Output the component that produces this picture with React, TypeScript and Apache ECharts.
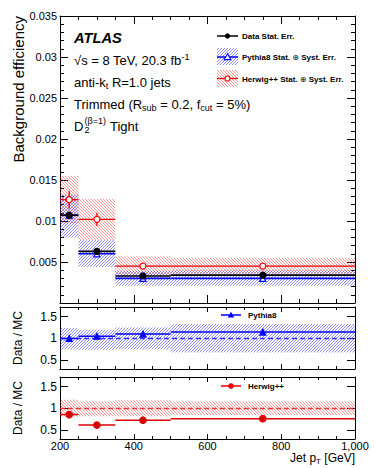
import React, { useEffect, useRef } from 'react';
import * as echarts from 'echarts';

// ---------- data ----------
const binEdges = [200, 250, 350, 500, 1000];
const binCenters = [225, 300, 425, 750];

const dataEff = [0.0107, 0.0063, 0.0033, 0.0034];
const dataErr = [0.0003, 0.0002, 0.0001, 0.0001];

const pythiaEff = [0.0107, 0.006, 0.003, 0.003];
const pythiaLo = [0.008, 0.0044, 0.0021, 0.0021];
const pythiaHi = [0.0132, 0.0077, 0.0039, 0.004];

const herwigEff = [0.0126, 0.0102, 0.0045, 0.0045];
const herwigErr = [0.0011, 0.0008, 0.0002, 0.0001];
const herwigLo = [0.0097, 0.0077, 0.0034, 0.0036];
const herwigHi = [0.0155, 0.0127, 0.0057, 0.0055];

const ratioPythia = [1.0, 1.05, 1.1, 1.145];
const ratioPythiaLo = [0.75, 0.74, 0.75, 0.68];
const ratioPythiaHi = [1.24, 1.2, 1.25, 1.33];

const ratioHerwig = [0.86, 0.62, 0.73, 0.765];
const ratioHerwigLo = [0.81, 0.82, 0.82, 0.85];
const ratioHerwigHi = [1.2, 1.16, 1.19, 1.16];

const ratioTicks = [0.5, 1, 1.5];

const FONT = '"Liberation Sans", Arial, Helvetica, sans-serif';
const BLUE = '#0000ff';
const RED = '#ee0000';
const BLUE_H = 'rgba(40,40,255,0.6)';
const RED_H = 'rgba(255,40,40,0.55)';

// ---------- helpers ----------
function hatch(x0: number, y0: number, x1: number, y1: number, s: number, dir: number, stroke: string, lw: number) {
  const out: any[] = [];
  const xa = Math.min(x0, x1), xb = Math.max(x0, x1), ya = Math.min(y0, y1), yb = Math.max(y0, y1);
  if (dir === 1) {
    const cmin = xa + ya, cmax = xb + yb;
    for (let c = Math.ceil(cmin / s) * s; c <= cmax; c += s) {
      const xs = Math.max(xa, c - yb), xe = Math.min(xb, c - ya);
      if (xe - xs < 0.3) continue;
      out.push({ type: 'line', shape: { x1: xs, y1: c - xs, x2: xe, y2: c - xe }, style: { stroke, lineWidth: lw } });
    }
  } else {
    const cmin = xa - yb, cmax = xb - ya;
    for (let c = Math.ceil(cmin / s) * s; c <= cmax; c += s) {
      const xs = Math.max(xa, ya + c), xe = Math.min(xb, yb + c);
      if (xe - xs < 0.3) continue;
      out.push({ type: 'line', shape: { x1: xs, y1: xs - c, x2: xe, y2: xe - c }, style: { stroke, lineWidth: lw } });
    }
  }
  return out;
}

function bandSeries(name: string, ax: number, lo: number[], hi: number[], dir: number, stroke: string) {
  return {
    type: 'custom',
    name,
    xAxisIndex: ax,
    yAxisIndex: ax,
    silent: true,
    z: 1,
    encode: { x: [0, 1], y: [2, 3] },
    data: lo.map((l, i) => [binEdges[i], binEdges[i + 1], l, hi[i]]),
    renderItem: (_p: any, api: any) => {
      const a = api.coord([api.value(0), api.value(3)]);
      const b = api.coord([api.value(1), api.value(2)]);
      return { type: 'group', children: hatch(a[0], a[1], b[0], b[1], 3, dir, stroke, 0.9) };
    },
  };
}

function stepSeries(name: string, ax: number, vals: number[], errs: number[] | null, color: string, lw: number, z: number) {
  return {
    type: 'custom',
    name,
    xAxisIndex: ax,
    yAxisIndex: ax,
    silent: true,
    z,
    encode: { x: [0, 1], y: 2 },
    data: vals.map((v, i) => [binEdges[i], binEdges[i + 1], v, errs ? errs[i] : 0, binCenters[i]]),
    renderItem: (_p: any, api: any) => {
      const y = api.value(2), e = api.value(3);
      const a = api.coord([api.value(0), y]);
      const b = api.coord([api.value(1), y]);
      const children: any[] = [
        { type: 'line', shape: { x1: a[0], y1: a[1], x2: b[0], y2: b[1] }, style: { stroke: color, lineWidth: lw } },
      ];
      if (e > 0) {
        const c1 = api.coord([api.value(4), y - e]);
        const c2 = api.coord([api.value(4), y + e]);
        children.push({ type: 'line', shape: { x1: c1[0], y1: c1[1], x2: c2[0], y2: c2[1] }, style: { stroke: color, lineWidth: lw } });
      }
      return { type: 'group', children };
    },
  };
}

function markerSeries(name: string, ax: number, vals: number[], symbol: string, size: number, fill: string, border: string, z: number) {
  return {
    type: 'scatter',
    name,
    xAxisIndex: ax,
    yAxisIndex: ax,
    silent: true,
    z,
    symbol,
    symbolSize: size,
    itemStyle: { color: fill, borderColor: border, borderWidth: 1.2, opacity: 1 },
    data: binCenters.map((x, i) => [x, vals[i]]),
  };
}

function xAx(grid: number, pos: string, labels: boolean, majorLen: number, minorLen: number) {
  return {
    type: 'value',
    gridIndex: grid,
    position: pos,
    min: 200,
    max: 1000,
    interval: 200,
    axisLine: { show: true, onZero: false, lineStyle: { color: '#000', width: 1 } },
    axisTick: { show: true, inside: true, length: majorLen, lineStyle: { color: '#000', width: 1 } },
    minorTick: { show: true, splitNumber: 4, length: minorLen, lineStyle: { color: '#000', width: 1 } },
    axisLabel: { show: labels, fontSize: 11, color: '#000', margin: 1, fontFamily: FONT },
    splitLine: { show: false },
    minorSplitLine: { show: false },
  };
}

function yTop(pos: string, labels: boolean) {
  return {
    type: 'value',
    gridIndex: 0,
    position: pos,
    min: 0,
    max: 0.035,
    interval: 0.005,
    axisLine: { show: true, onZero: false, lineStyle: { color: '#000', width: 1 } },
    axisTick: { show: true, inside: true, length: 8, lineStyle: { color: '#000', width: 1 } },
    minorTick: { show: true, splitNumber: 5, length: 4, lineStyle: { color: '#000', width: 1 } },
    axisLabel: {
      show: labels,
      fontSize: 11,
      color: '#000',
      margin: 3,
      fontFamily: FONT,
      formatter: (v: number) => (Math.abs(v) < 1e-9 ? '' : String(parseFloat(v.toFixed(4)))),
    },
    splitLine: { show: false },
  };
}

function yRatio(grid: number, pos: string, labels: boolean) {
  return {
    type: 'value',
    gridIndex: grid,
    position: pos,
    min: 0.3,
    max: 1.72,
    axisLine: { show: true, onZero: false, lineStyle: { color: '#000', width: 1 } },
    axisTick: { show: true, inside: true, length: 8, customValues: ratioTicks, lineStyle: { color: '#000', width: 1 } },
    axisLabel: { show: labels, customValues: ratioTicks, fontSize: 12, color: '#000', margin: 3, fontFamily: FONT, formatter: (v: number) => String(v) },
    splitLine: { show: false },
  };
}

function txt(x: number, y: number, text: string, extra: any = {}) {
  return {
    type: 'text',
    x,
    y,
    silent: true,
    z: 100,
    style: Object.assign({ text, fill: '#000', font: `13px ${FONT}`, textVerticalAlign: 'middle', verticalAlign: 'middle', align: 'left' }, extra),
  };
}

const richSub = { fontSize: 9, fontFamily: FONT, padding: [7, 0, 0, 0] };
const richSup = { fontSize: 9, fontFamily: FONT, padding: [0, 0, 7, 0] };

function buildGraphic() {
  const g: any[] = [];
  // axis titles
  g.push({ ...txt(18, 16, 'Background efficiency', { font: `15px ${FONT}`, align: 'right' }), rotation: Math.PI / 2 });
  g.push({ ...txt(18, 338, 'Data / MC', { font: `12px ${FONT}`, align: 'center' }), rotation: Math.PI / 2 });
  g.push({ ...txt(18, 408, 'Data / MC', { font: `12px ${FONT}`, align: 'center' }), rotation: Math.PI / 2 });
  g.push(txt(355, 458, '{n|Jet p}{sub|T}{n| [GeV]}', { align: 'right', rich: { n: { fontSize: 12, fontFamily: FONT }, sub: { fontSize: 8, fontFamily: FONT, padding: [6, 0, 0, 0] } } }));

  // labels
  g.push(txt(74, 38, 'ATLAS', { font: `italic bold 14.7px ${FONT}` }));
  g.push(txt(74, 60, '{n|√s = 8 TeV, 20.3 fb}{sup|-1}', { rich: { n: { fontSize: 13, fontFamily: FONT }, sup: richSup } }));
  g.push(txt(74, 82, '{n|anti-k}{sub|t}{n| R=1.0 jets}', { rich: { n: { fontSize: 13, fontFamily: FONT }, sub: richSub } }));
  g.push(txt(74, 104, '{n|Trimmed (R}{sub|sub}{n| = 0.2, f}{sub|cut}{n| = 5%)}', { rich: { n: { fontSize: 13, fontFamily: FONT }, sub: richSub } }));
  g.push(txt(74, 126, 'D'));
  g.push(txt(84.5, 130, '2', { font: `9px ${FONT}` }));
  g.push(txt(84.5, 121, '(β=1)', { font: `9px ${FONT}` }));
  g.push(txt(110, 126, 'Tight'));

  // legend (top panel)
  g.push(...hatch(217, 48, 238, 65, 3, 1, BLUE_H, 0.9).map((e) => ({ ...e, silent: true, z: 90 })));
  g.push(...hatch(217, 70, 238, 87, 3, -1, RED_H, 0.9).map((e) => ({ ...e, silent: true, z: 90 })));
  g.push({ type: 'line', z: 95, silent: true, shape: { x1: 217, y1: 36, x2: 238, y2: 36 }, style: { stroke: '#000', lineWidth: 1.5 } });
  g.push({ type: 'circle', z: 96, silent: true, shape: { cx: 227.5, cy: 36, r: 2.6 }, style: { fill: '#000' } });
  g.push({ type: 'line', z: 95, silent: true, shape: { x1: 217, y1: 57, x2: 238, y2: 57 }, style: { stroke: BLUE, lineWidth: 1.5 } });
  g.push({ type: 'polygon', z: 96, silent: true, shape: { points: [[227.5, 53.8], [230.8, 59.6], [224.2, 59.6]] }, style: { fill: '#fff', stroke: BLUE, lineWidth: 1.1 } });
  g.push({ type: 'line', z: 95, silent: true, shape: { x1: 217, y1: 78.5, x2: 238, y2: 78.5 }, style: { stroke: RED, lineWidth: 1.3 } });
  g.push({ type: 'circle', z: 96, silent: true, shape: { cx: 227.5, cy: 78.5, r: 2.5 }, style: { fill: '#fff', stroke: RED, lineWidth: 1.1 } });
  g.push(txt(242, 36, 'Data Stat. Err.', { font: `bold 8px ${FONT}` }));
  g.push(txt(242, 57.5, '{b|Pythia8 Stat. }{o|⊕}{b| Syst. Err.}', { rich: { b: { font: `bold 8px ${FONT}` }, o: { font: `8px "DejaVu Sans", ${FONT}` } } }));
  g.push(txt(242, 79, '{b|Herwig++ Stat. }{o|⊕}{b| Syst. Err.}', { rich: { b: { font: `bold 8px ${FONT}` }, o: { font: `8px "DejaVu Sans", ${FONT}` } } }));

  // ratio legends
  g.push({ type: 'line', z: 95, silent: true, shape: { x1: 221, y1: 315, x2: 241, y2: 315 }, style: { stroke: BLUE, lineWidth: 1.5 } });
  g.push({ type: 'polygon', z: 96, silent: true, shape: { points: [[231, 311.8], [234.3, 317.6], [227.7, 317.6]] }, style: { fill: BLUE } });
  g.push(txt(248, 315, 'Pythia8', { font: `bold 8px ${FONT}` }));
  g.push({ type: 'line', z: 95, silent: true, shape: { x1: 221, y1: 386, x2: 241, y2: 386 }, style: { stroke: RED, lineWidth: 1.5 } });
  g.push({ type: 'circle', z: 96, silent: true, shape: { cx: 231, cy: 386, r: 2.8 }, style: { fill: RED } });
  g.push(txt(248, 386, 'Herwig++', { font: `bold 8px ${FONT}` }));
  return g;
}

function buildOption() {
  const grids = [
    { left: 60, right: 19, top: 16, height: 287 },
    { left: 60, right: 19, top: 307, height: 62 },
    { left: 60, right: 19, top: 377, height: 62 },
  ];
  const xAxes = [
    xAx(0, 'bottom', false, 8, 4),
    xAx(0, 'top', false, 8, 4),
    xAx(1, 'bottom', false, 5, 3),
    xAx(1, 'top', false, 5, 3),
    xAx(2, 'bottom', true, 5, 3),
    xAx(2, 'top', false, 5, 3),
  ];
  const yAxes = [yTop('left', true), yTop('right', false), yRatio(1, 'left', true), yRatio(1, 'right', false), yRatio(2, 'left', true), yRatio(2, 'right', false)];

  const series: any[] = [
    // top panel
    bandSeries('Herwig++ band', 0, herwigLo, herwigHi, -1, RED_H),
    bandSeries('Pythia8 band', 0, pythiaLo, pythiaHi, 1, BLUE_H),
    stepSeries('Herwig++', 0, herwigEff, herwigErr, RED, 1.3, 3),
    stepSeries('Pythia8', 0, pythiaEff, null, BLUE, 1.6, 3),
    stepSeries('Data', 0, dataEff, dataErr, '#000', 1.6, 4),
    markerSeries('Herwig++ markers', 0, herwigEff, 'circle', 6, '#fff', RED, 6),
    markerSeries('Pythia8 markers', 0, pythiaEff, 'triangle', 6, '#fff', BLUE, 6),
    markerSeries('Data markers', 0, dataEff, 'circle', 6, '#000', '#000', 7),
    // ratio Pythia
    bandSeries('Pythia8 ratio band', 2, ratioPythiaLo, ratioPythiaHi, 1, BLUE_H),
    {
      type: 'line', xAxisIndex: 2, yAxisIndex: 2, silent: true, z: 2, symbol: 'none',
      lineStyle: { color: '#3333ff', width: 1.5, type: [5, 3] },
      data: [[binEdges[0], 1], [binEdges[binEdges.length - 1], 1]],
    },
    stepSeries('Data/Pythia8', 2, ratioPythia, null, BLUE, 1.5, 3),
    markerSeries('Data/Pythia8 markers', 2, ratioPythia, 'triangle', 6, BLUE, BLUE, 6),
    // ratio Herwig
    bandSeries('Herwig++ ratio band', 4, ratioHerwigLo, ratioHerwigHi, -1, RED_H),
    {
      type: 'line', xAxisIndex: 4, yAxisIndex: 4, silent: true, z: 2, symbol: 'none',
      lineStyle: { color: '#ee3333', width: 1.5, type: [5, 3] },
      data: [[binEdges[0], 1], [binEdges[binEdges.length - 1], 1]],
    },
    stepSeries('Data/Herwig++', 4, ratioHerwig, null, '#dd0000', 1.5, 3),
    markerSeries('Data/Herwig++ markers', 4, ratioHerwig, 'circle', 6.5, '#dd0000', '#dd0000', 6),
  ];

  return {
    animation: false,
    backgroundColor: '#fff',
    textStyle: { fontFamily: FONT },
    grid: grids,
    xAxis: xAxes,
    yAxis: yAxes,
    series,
    graphic: buildGraphic(),
  };
}

export default function App() {
  const ref = useRef<HTMLDivElement | null>(null);
  useEffect(() => {
    document.body.style.margin = '0';
    if (!ref.current) return;
    const chart = echarts.init(ref.current, undefined, { renderer: 'svg' });
    chart.setOption(buildOption() as any);
    return () => chart.dispose();
  }, []);
  return <div ref={ref} style={{ position: 'absolute', left: 0, top: 0, width: 374, height: 468 }} />;
}
